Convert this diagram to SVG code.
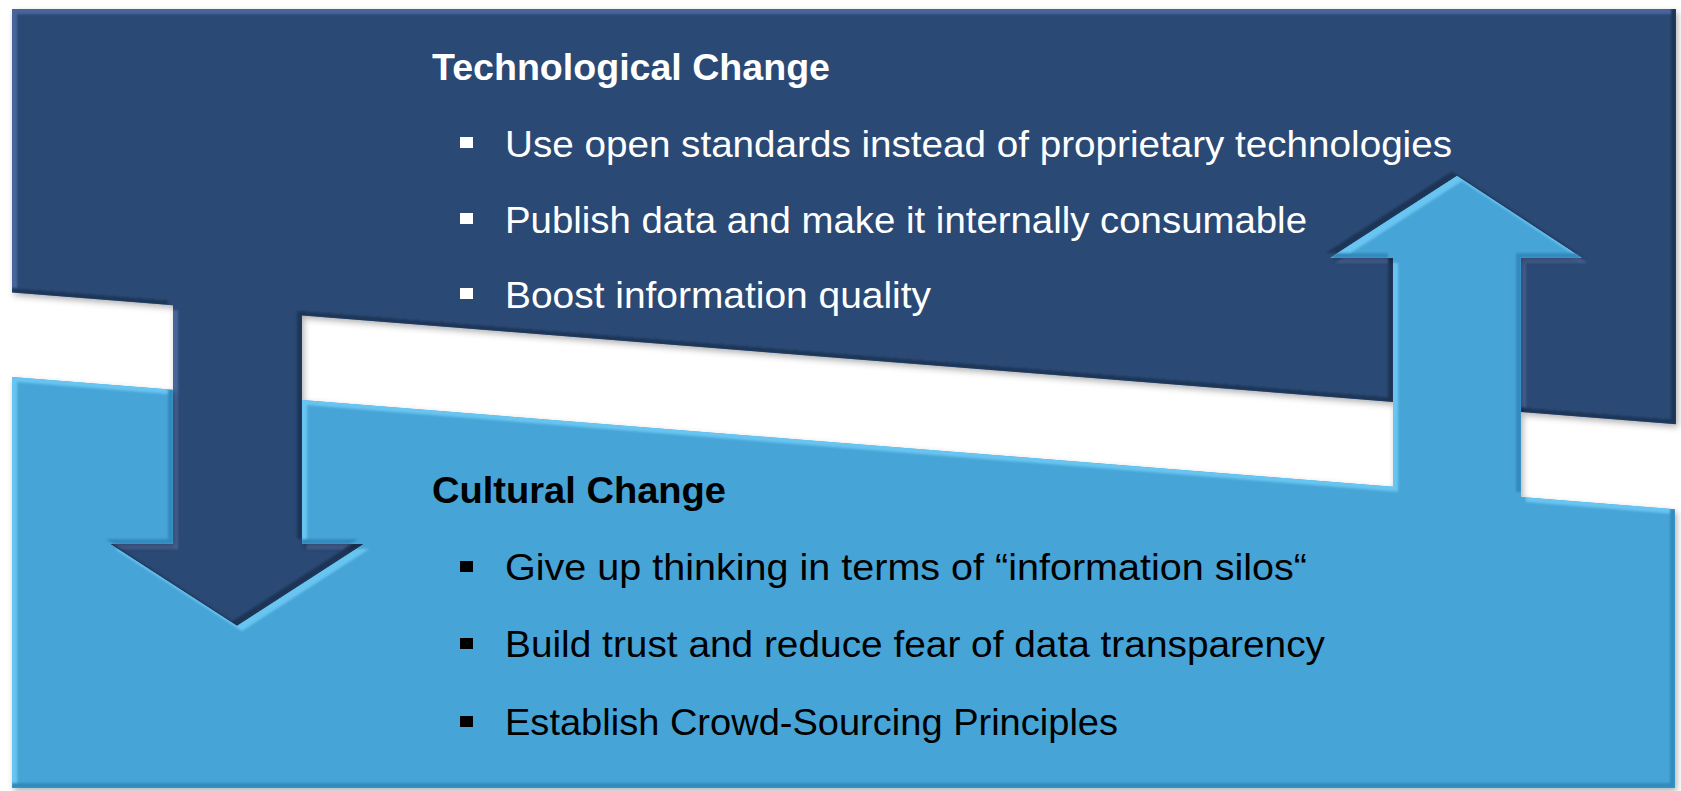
<svg xmlns="http://www.w3.org/2000/svg" width="1681" height="791" viewBox="0 0 1681 791">
<style>
.t{font-family:"Liberation Sans",Arial,sans-serif;font-size:37px}
.h{font-weight:bold}
.w{fill:#ffffff}
.k{fill:#000000}
</style>
<defs>
<filter id="sh" x="-5%" y="-5%" width="110%" height="115%">
<feDropShadow dx="2" dy="3" stdDeviation="3" flood-color="#000" flood-opacity="0.3"/>
</filter>
<filter id="bl" x="-2%" y="-2%" width="104%" height="104%">
<feGaussianBlur stdDeviation="1.2"/>
</filter>
<path id="pd" d="M12,9 L1676,9 L1676,424.3 L1521,412 L1521,258 L1582,258 L1457,176 L1330,258 L1393,258 L1393,401.9 L302,315.5 L302,544 L364,544 L237,626 L110,544 L173,544 L173,305.3 L12,292.5 Z"/>
<path id="pl" d="M12,377 L173,389.8 L173,544 L110,544 L237,626 L364,544 L302,544 L302,400 L1393,486.8 L1393,258 L1330,258 L1457,176 L1582,258 L1521,258 L1521,497 L1675,509.2 L1675,788 L12,788 Z"/>
<clipPath id="cd"><use href="#pd"/></clipPath>
<clipPath id="cds"><use href="#pd" transform="translate(-5,-5)"/></clipPath>
<clipPath id="cl"><use href="#pl"/></clipPath>
<clipPath id="cls"><use href="#pl" transform="translate(-5,-5)"/></clipPath>
</defs>
<g id="technological">
<use href="#pd" fill="#2C4874" filter="url(#sh)"/>
<g clip-path="url(#cd)">
<g filter="url(#bl)">
<use href="#pd" fill="#1E3456"/>
<use href="#pd" fill="#46659A" transform="translate(-5,-5)"/>
<g clip-path="url(#cds)"><use href="#pd" fill="#2C4874" transform="translate(5,5)"/></g>
</g>
</g>
<text class="t h w" x="432" y="80" textLength="398" lengthAdjust="spacingAndGlyphs">Technological Change</text>
<rect class="w" x="460" y="137" width="13" height="11"/>
<text class="t w" x="505" y="157" textLength="947" lengthAdjust="spacingAndGlyphs">Use open standards instead of proprietary technologies</text>
<rect class="w" x="460" y="213" width="13" height="11"/>
<text class="t w" x="505" y="233" textLength="802" lengthAdjust="spacingAndGlyphs">Publish data and make it internally consumable</text>
<rect class="w" x="460" y="288" width="13" height="11"/>
<text class="t w" x="505" y="308" textLength="426" lengthAdjust="spacingAndGlyphs">Boost information quality</text>
</g>
<g id="cultural">
<use href="#pl" fill="#46A4D7" filter="url(#sh)"/>
<g clip-path="url(#cl)">
<g filter="url(#bl)">
<use href="#pl" fill="#3389BC"/>
<use href="#pl" fill="#68C4F0" transform="translate(-5,-5)"/>
<g clip-path="url(#cls)"><use href="#pl" fill="#46A4D7" transform="translate(5,5)"/></g>
</g>
</g>
<text class="t h k" x="432" y="503" textLength="294" lengthAdjust="spacingAndGlyphs">Cultural Change</text>
<rect class="k" x="460" y="561" width="13" height="11"/>
<text class="t k" x="505" y="580" textLength="802" lengthAdjust="spacingAndGlyphs">Give up thinking in terms of “information silos“</text>
<rect class="k" x="460" y="638" width="13" height="11"/>
<text class="t k" x="505" y="657" textLength="820" lengthAdjust="spacingAndGlyphs">Build trust and reduce fear of data transparency</text>
<rect class="k" x="460" y="716" width="13" height="11"/>
<text class="t k" x="505" y="735" textLength="613" lengthAdjust="spacingAndGlyphs">Establish Crowd-Sourcing Principles</text>
</g>
<g id="connectors"></g>
</svg>
